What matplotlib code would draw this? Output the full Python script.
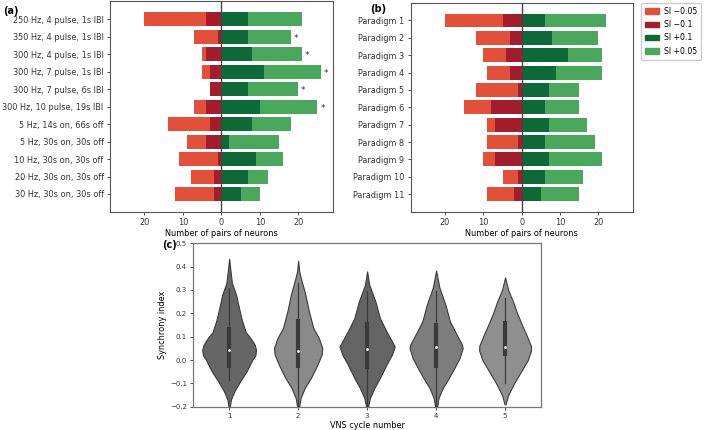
import matplotlib
matplotlib.use("Agg")
import matplotlib.pyplot as plt
from matplotlib.patches import Patch

# panel (a): stimulation protocols
protocols = [
    "250 Hz, 4 pulse, 1s IBI",
    "350 Hz, 4 pulse, 1s IBI",
    "300 Hz, 4 pulse, 1s IBI",
    "300 Hz, 7 pulse, 1s IBI",
    "300 Hz, 7 pulse, 6s IBI",
    "300 Hz, 10 pulse, 19s IBI",
    "5 Hz, 14s on, 66s off",
    "5 Hz, 30s on, 30s off",
    "10 Hz, 30s on, 30s off",
    "20 Hz, 30s on, 30s off",
    "30 Hz, 30s on, 30s off",
]
a_neg_005 = [20, 7, 5, 5, 3, 7, 14, 9, 11, 8, 12]   # pairs with SI < -0.05 (total)
a_neg_01 = [4, 1, 4, 3, 3, 4, 3, 4, 1, 2, 2]        # pairs with SI < -0.1
a_pos_01 = [7, 7, 8, 11, 7, 10, 8, 2, 9, 7, 5]      # pairs with SI > +0.1
a_pos_005 = [21, 18, 21, 26, 20, 25, 18, 15, 16, 12, 10]  # pairs with SI > +0.05 (total)
a_signif = [False, True, True, True, True, True, False, False, False, False, False]

# panel (b): paradigms
paradigms = ["Paradigm %d" % i for i in range(1, 12)]
b_neg_005 = [20, 12, 10, 9, 12, 15, 9, 9, 10, 5, 9]
b_neg_01 = [5, 3, 4, 3, 1, 8, 7, 1, 7, 1, 2]
b_pos_01 = [6, 8, 12, 9, 7, 6, 7, 6, 7, 6, 5]
b_pos_005 = [22, 20, 21, 21, 15, 15, 17, 19, 21, 16, 15]

# panel (c): violin outlines (synchrony index, half width in category units)
cycles = ["1", "2", "3", "4", "5"]
v1_y = [0.434, 0.38, 0.33, 0.28, 0.22, 0.17, 0.12, 0.094, 0.066, 0.044, 0.02, 0.003, -0.05, -0.093, -0.136, -0.17, -0.20]
v1_w = [0.0, 0.02, 0.04, 0.10, 0.145, 0.185, 0.24, 0.31, 0.37, 0.39, 0.38, 0.34, 0.25, 0.155, 0.072, 0.025, 0.01]
v2_y = [0.425, 0.38, 0.35, 0.28, 0.21, 0.137, 0.094, 0.051, 0.023, -0.02, -0.077, -0.12, -0.163, -0.20]
v2_w = [0.0, 0.015, 0.04, 0.105, 0.155, 0.22, 0.30, 0.35, 0.34, 0.28, 0.185, 0.095, 0.035, 0.015]
v3_y = [0.38, 0.323, 0.251, 0.18, 0.123, 0.08, 0.058, 0.023, -0.02, -0.077, -0.12, -0.163, -0.20]
v3_w = [0.0, 0.03, 0.12, 0.185, 0.28, 0.36, 0.40, 0.36, 0.28, 0.185, 0.105, 0.04, 0.015]
v4_y = [0.383, 0.31, 0.237, 0.165, 0.108, 0.066, 0.051, 0.008, -0.034, -0.077, -0.12, -0.163, -0.20]
v4_w = [0.0, 0.048, 0.135, 0.20, 0.30, 0.375, 0.385, 0.34, 0.265, 0.185, 0.095, 0.035, 0.015]
v5_y = [0.354, 0.30, 0.25, 0.20, 0.15, 0.10, 0.06, 0.04, 0.0, -0.05, -0.10, -0.15, -0.19]
v5_w = [0.0, 0.045, 0.115, 0.175, 0.245, 0.32, 0.375, 0.375, 0.33, 0.23, 0.13, 0.045, 0.007]
# box stats: q1, q3, median, whisker low, whisker high
q1 = [-0.034, -0.034, -0.037, -0.034, 0.016]
q3 = [0.14, 0.177, 0.163, 0.158, 0.168]
medians = [0.044, 0.04, 0.048, 0.054, 0.054]
whisk_lo = [-0.085, -0.2, -0.2, -0.2, -0.1]
whisk_hi = [0.31, 0.33, 0.297, 0.294, 0.266]

C_NEG005 = "#e2503a"
C_NEG01 = "#a31d2c"
C_POS01 = "#0d6a36"
C_POS005 = "#4aa85c"
SPINE = "#555555"


def draw_bars(ax, labels, neg005, neg01, pos01, pos005, signif=None):
    y = list(range(len(labels)))
    ax.barh(y, [-v for v in neg005], height=0.8, color=C_NEG005)
    ax.barh(y, [-v for v in neg01], height=0.8, color=C_NEG01)
    ax.barh(y, pos005, height=0.8, color=C_POS005)
    ax.barh(y, pos01, height=0.8, color=C_POS01)
    ax.axvline(0, color="#444444", lw=1.0)
    if signif is not None:
        for yi, v, s in zip(y, pos005, signif):
            if s:
                ax.text(v + 1.3, yi + 0.1, "*", ha="center", va="center", fontsize=6.5, color="#333333")
    ax.set_yticks(y)
    ax.set_yticklabels(labels, fontsize=5.9)
    ax.set_ylim(len(labels) - 1 + 1.03, -1.03)
    ax.set_xlim(-29, 29)
    ax.set_xticks([-20, -10, 0, 10, 20])
    ax.set_xticklabels(["20", "10", "0", "10", "20"], fontsize=5.9)
    ax.set_xlabel("Number of pairs of neurons", fontsize=5.9, labelpad=1.5)
    ax.tick_params(length=2.5, width=0.6, pad=2, colors="#333333")
    for sp in ax.spines.values():
        sp.set_color(SPINE)
        sp.set_linewidth(0.8)


fig = plt.figure(figsize=(7.09, 4.30), dpi=100)

ax_a = fig.add_axes([0.155, 0.507, 0.3145, 0.49])
draw_bars(ax_a, protocols, a_neg_005, a_neg_01, a_pos_01, a_pos_005, a_signif)

ax_b = fig.add_axes([0.579, 0.507, 0.3136, 0.487])
draw_bars(ax_b, paradigms, b_neg_005, b_neg_01, b_pos_01, b_pos_005)
handles = [
    Patch(color=C_NEG005, label="SI \u22120.05"),
    Patch(color=C_NEG01, label="SI \u22120.1"),
    Patch(color=C_POS01, label="SI +0.1"),
    Patch(color=C_POS005, label="SI +0.05"),
]
ax_b.legend(handles=handles, loc="upper left", bbox_to_anchor=(1.035, 0.998), fontsize=5.6,
            handlelength=1.9, handleheight=0.7, handletextpad=0.6, labelspacing=0.55,
            borderpad=0.5, borderaxespad=0.0, framealpha=1, edgecolor="#cccccc")

ax_c = fig.add_axes([0.2726, 0.0542, 0.4904, 0.38])
violins = [(v1_y, v1_w), (v2_y, v2_w), (v3_y, v3_w), (v4_y, v4_w), (v5_y, v5_w)]
fills = ["#666666", "#8a8a8a", "#646464", "#7d7d7d", "#8f8f8f"]
for i, (vy, vw) in enumerate(violins):
    ax_c.fill_betweenx(vy, [i - w for w in vw], [i + w for w in vw],
                       facecolor=fills[i], edgecolor="#3a3a3a", lw=0.8, zorder=2)
    ax_c.plot([i, i], [whisk_lo[i], whisk_hi[i]], color="#3a3a3a", lw=0.9, zorder=3)
    ax_c.plot([i, i], [q1[i], q3[i]], color="#3a3a3a", lw=3.0, solid_capstyle="butt", zorder=4)
    ax_c.scatter([i], [medians[i]], s=4, color="white", zorder=5, linewidths=0)
ax_c.set_xlim(-0.52, 4.52)
ax_c.set_ylim(-0.2, 0.5)
ax_c.set_xticks(range(len(cycles)))
ax_c.set_xticklabels(cycles)
ax_c.set_yticks([-0.2, -0.1, 0.0, 0.1, 0.2, 0.3, 0.4, 0.5])
ax_c.tick_params(labelsize=5, length=2.5, width=0.6, pad=2, colors="#333333")
ax_c.set_xlabel("VNS cycle number", fontsize=5.9, labelpad=1.5)
ax_c.set_ylabel("Synchrony index", fontsize=5.9, labelpad=2)
for sp in ax_c.spines.values():
    sp.set_color("#777777")
    sp.set_linewidth(0.9)

fig.text(0.004, 0.975, "(a)", fontsize=7, fontweight="bold", va="center")
fig.text(0.522, 0.978, "(b)", fontsize=7, fontweight="bold", va="center")
fig.text(0.228, 0.43, "(c)", fontsize=7, fontweight="bold", va="center")

fig.savefig("out.png", dpi=100)
